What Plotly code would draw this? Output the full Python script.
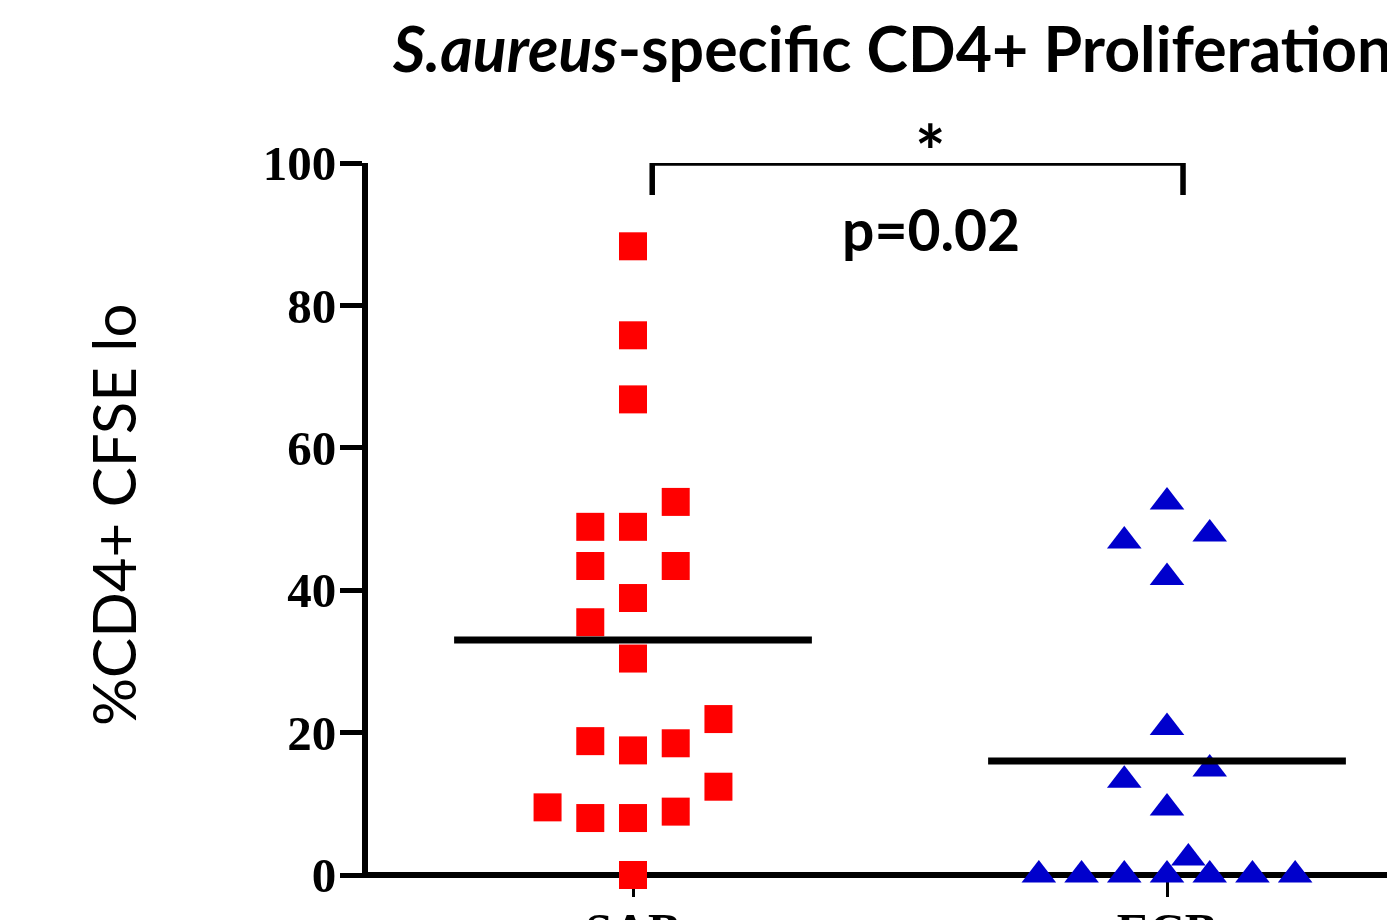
import plotly.graph_objects as go

# ---- data ----
categories = ["SAB", "ECB"]
cat_pos = [1, 2]

sab_values = [88.3, 75.8, 66.8, 52.4, 48.9, 48.9, 43.4, 43.4, 38.9, 35.5, 30.4,
              21.9, 18.8, 17.5, 18.5, 12.4, 9.5, 8.0, 8.0, 8.9, 0.0]
sab_offsets = [0, 0, 0, 0.08, -0.08, 0, -0.08, 0.08, 0, -0.08, 0,
               0.16, -0.08, 0, 0.08, 0.16, -0.16, -0.08, 0, 0.08, 0]

ecb_values = [52.4, 46.9, 47.9, 41.8, 20.7, 14.9, 13.3, 9.4, 2.4,
              0, 0, 0, 0, 0, 0, 0]
ecb_offsets = [0, -0.08, 0.08, 0, 0, 0.08, -0.08, 0, 0.04,
               -0.24, -0.16, -0.08, 0, 0.08, 0.16, 0.24]

group_means = [33.0, 16.0]
mean_halfwidth = 0.335

y_ticks = [0, 20, 40, 60, 80, 100]
p_text = "p=0.02"
sig_text = "*"

# page body has an 8px margin, so the figure is drawn 8px smaller and offset
OFF = 8
W, H = 1395 - OFF, 920 - OFF
PLOT_LEFT, PLOT_TOP, PLOT_BOTTOM = 368, 163, 878      # in page pixels
Y0_PX, Y100_PX = 875, 163
PX_PER_VAL = (Y0_PX - Y100_PX) / 100.0
L, R, T = PLOT_LEFT - OFF, 0, PLOT_TOP - OFF
B = H - (PLOT_BOTTOM - OFF)
PW, PH = W - L - R, H - T - B
PX_PER_UNIT = 534.0
x_lo = cat_pos[0] - (633 - PLOT_LEFT) / PX_PER_UNIT
x_hi = x_lo + PW / PX_PER_UNIT
y_lo = (Y0_PX - PLOT_BOTTOM) / PX_PER_VAL
y_hi = 100


def px_to_xdata(px):
    return x_lo + (px - PLOT_LEFT) / PX_PER_UNIT


def py_to_paper(py):
    return (PLOT_BOTTOM - py) / PH


fig = go.Figure()

fig.add_trace(go.Scatter(
    x=[cat_pos[0] + o for o in sab_offsets], y=sab_values, mode="markers",
    marker=dict(symbol="square", size=28, color="#FF0000", line=dict(width=0)),
    cliponaxis=False, showlegend=False))

fig.add_trace(go.Scatter(
    x=[cat_pos[1] + o for o in ecb_offsets], y=ecb_values, mode="markers",
    marker=dict(symbol="triangle-up", size=30, color="#0000CC", line=dict(width=0)),
    cliponaxis=False, showlegend=False))

for c, m in zip(cat_pos, group_means):
    fig.add_trace(go.Scatter(
        x=[c - mean_halfwidth, c + mean_halfwidth], y=[m, m], mode="lines",
        line=dict(color="black", width=7), cliponaxis=False, showlegend=False))

# significance bracket
br_x = [cat_pos[0] + 0.036, cat_pos[0] + 0.036, cat_pos[1] + 0.03, cat_pos[1] + 0.03]
br_y = [95.5, 100, 100, 95.5]
fig.add_trace(go.Scatter(x=br_x, y=br_y, mode="lines",
                         line=dict(color="black", width=5.5), cliponaxis=False,
                         showlegend=False))

fig.add_annotation(x=px_to_xdata(930), y=py_to_paper(151), xref="x", yref="paper",
                   xanchor="center", yanchor="middle",
                   text="<b>" + sig_text + "</b>", showarrow=False,
                   font=dict(family="Lato", size=72, color="black"))
fig.add_annotation(x=px_to_xdata(931), y=py_to_paper(229), xref="x", yref="paper",
                   xanchor="center", yanchor="middle",
                   text="<b>" + p_text + "</b>", showarrow=False,
                   font=dict(family="Lato", size=57, color="black"))

# y axis title
fig.add_annotation(x=(113 - PLOT_LEFT) / PW, y=py_to_paper(515),
                   xref="paper", yref="paper", xanchor="center", yanchor="middle",
                   text="%CD4+ CFSE lo", textangle=-90, showarrow=False,
                   font=dict(family="Lato", size=60, color="black"))

tick_font = dict(family="Liberation Serif", size=49, color="black", weight="bold")

fig.update_layout(
    template="none",
    width=W, height=H,
    margin=dict(l=L, r=R, t=T, b=B, pad=0, autoexpand=False),
    paper_bgcolor="white", plot_bgcolor="white",
    showlegend=False,
    title=dict(text="<b><i>S.aureus</i>-specific CD4+ Proliferation</b>",
               x=(393 - OFF) / W, xanchor="left", xref="container",
               y=1 - (50 - OFF) / H, yanchor="middle", yref="container",
               font=dict(family="Lato", size=62.6, color="black")),
    xaxis=dict(range=[x_lo, x_hi], tickvals=cat_pos, ticktext=categories,
               showgrid=False, zeroline=False, showline=False,
               ticks="outside", ticklen=18, tickwidth=2.5, tickcolor="black",
               ticklabelstandoff=-9,
               tickfont=tick_font, automargin=False, layer="below traces"),
    yaxis=dict(range=[y_lo, y_hi], tickvals=y_ticks, showgrid=False,
               zeroline=True, zerolinecolor="black", zerolinewidth=6,
               showline=True, linecolor="black", linewidth=6, ticks="outside",
               ticklen=22, tickwidth=5, tickcolor="black", ticklabelstandoff=-6,
               tickfont=tick_font, automargin=False, layer="below traces"),
)

fig.write_html("out.html")
